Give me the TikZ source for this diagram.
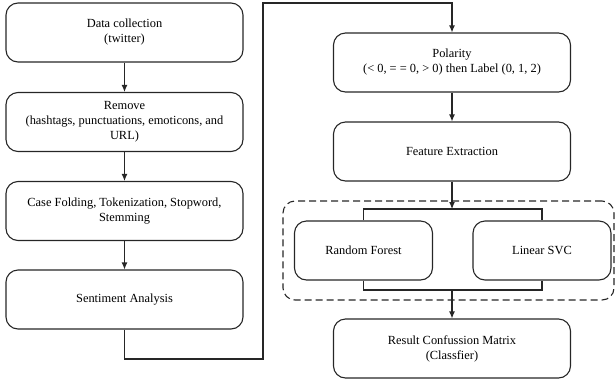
\documentclass[tikz,border=0pt]{standalone}
\usepackage{fontspec}
\setmainfont{Liberation Serif}
\usetikzlibrary{arrows.meta}
\begin{document}
\begin{tikzpicture}[x=1pt,y=-1pt,
  box/.style={draw=black!85, line width=1.1pt, rounded corners=12pt, align=center,
    font=\fontsize{12.4}{15}\selectfont, inner sep=2pt},
  wbox/.style={box, minimum width=237pt, minimum height=59pt},
  sbox/.style={box, minimum width=138pt, minimum height=59pt},
  conn/.style={draw=black!85, line width=1.1pt},
  arr/.style={conn, -{Latex[length=7pt,width=6pt]}},
  grpbox/.style={draw=black!85, line width=1.1pt, dashed, dash pattern=on 7pt off 4pt,
    rounded corners=12pt, minimum width=331pt, minimum height=99pt}
]
\useasboundingbox (0,0) rectangle (616,381);
\node[wbox] (dc) at (124.5,32.5) {Data collection\\(twitter)};
\node[wbox] (rm) at (124.5,122) {Remove\\(hashtags, punctuations, emoticons, and\\URL)};
\node[wbox] (cf) at (124.5,211) {Case Folding, Tokenization, Stopword,\\Stemming};
\node[wbox] (sa) at (124.5,299.5) {Sentiment Analysis};
\node[wbox] (pol) at (452,62.5) {Polarity\\(< 0, = = 0, > 0) then Label (0, 1, 2)};
\node[wbox] (fe) at (452,151.5) {Feature Extraction};
\node[grpbox] (grp) at (448.5,250.5) {};
\node[sbox] (rf) at (363.5,250.5) {Random Forest};
\node[sbox] (svc) at (542,250.5) {Linear SVC};
\node[wbox] (res) at (452,348.5) {Result Confussion Matrix\\(Classfier)};

\coordinate (c1) at (263,359);
\coordinate (c2) at (452,3);
\coordinate (topc) at (452,209);
\coordinate (botc) at (452,290);

\draw[arr] (dc) -- (rm);
\draw[arr] (rm) -- (cf);
\draw[arr] (cf) -- (sa);
\draw[arr] (sa.south) |- (c1) |- (c2) -- (pol.north);
\draw[arr] (pol) -- (fe);
\draw[arr] (fe.south) -- (topc);
\draw[conn] (rf.north) |- (topc) -| (svc.north);
\draw[conn] (rf.south) |- (botc) -| (svc.south);
\draw[arr] (botc) -- (res.north);
\end{tikzpicture}
\end{document}
